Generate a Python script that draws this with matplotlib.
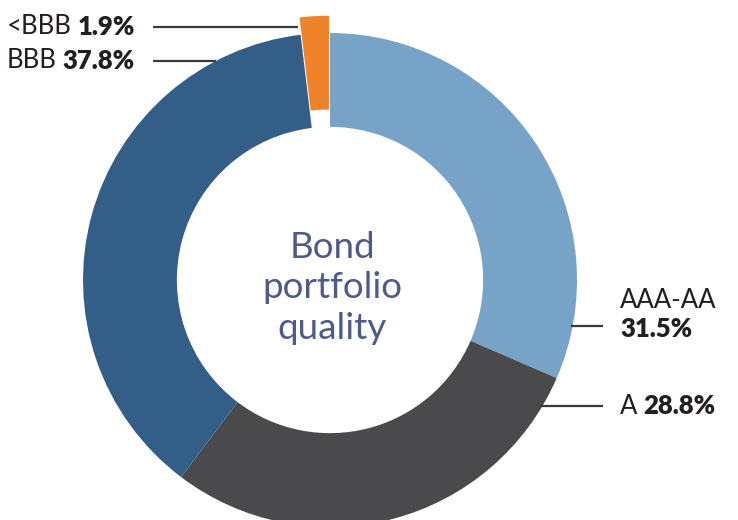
import numpy as np
import matplotlib
matplotlib.use("Agg")
import matplotlib.pyplot as plt

categories = ["AAA-AA", "A", "BBB", "<BBB"]
values = [31.5, 28.8, 37.8, 1.9]
colors = ["#77a3c8", "#4a4a4c", "#335e88", "#f0832a"]
explode_frac = [0, 0, 0, 0.07]
center_title = "Bond\nportfolio\nquality"

W, H = 738, 520
fig = plt.figure(figsize=(W / 100, H / 100), dpi=100)
ax = fig.add_axes([0, 0, 1, 1])

cx, cy, R = 330, H - 280, 247
ring = 0.38

ax.pie(values, colors=colors, startangle=90, counterclock=False,
       explode=[e * R for e in explode_frac], center=(cx, cy), radius=R,
       wedgeprops=dict(width=R * ring, linewidth=0), frame=True)
ax.set_xlim(0, W)
ax.set_ylim(0, H)
ax.set_aspect("equal")
ax.axis("off")

ax.text(cx + 2, cy - 8, center_title, ha="center", va="center", fontsize=26.5,
        color="#4d5a8a", family="Lato", linespacing=1.28)

line_color = "#3a3a3a"
txt_color = "#231f20"
fs = 18.5

def circ_x(y, side):
    return cx + side * np.sqrt(R ** 2 - (y - cy) ** 2)

fig.canvas.draw()
renderer = fig.canvas.get_renderer()

def left_label(idx, y, x_end):
    ax.plot([153, x_end], [y, y], color=line_color, lw=1.6, solid_capstyle="butt")
    b = ax.text(135, y, f"{values[idx]:.1f}%", ha="right", va="center",
                fontsize=fs, fontweight="heavy", family="Lato", color=txt_color)
    bb = b.get_window_extent(renderer=renderer)
    ax.text(bb.x0 - 6, y, categories[idx], ha="right", va="center",
            fontsize=fs, family="Lato", color=txt_color)

left_label(3, H - 27, 298)
left_label(2, H - 61, circ_x(H - 61, -1))

# AAA-AA
y1 = H - 326
ax.plot([circ_x(y1, 1) - 2, 603], [y1, y1], color=line_color, lw=1.6, solid_capstyle="butt")
ax.text(620, H - 301, categories[0], ha="left", va="center", fontsize=fs,
        family="Lato", color=txt_color)
ax.text(620, H - 329, f"{values[0]:.1f}%", ha="left", va="center", fontsize=fs,
        fontweight="heavy", family="Lato", color=txt_color)

# A
y2 = H - 406
ax.plot([circ_x(y2, 1) - 2, 603], [y2, y2], color=line_color, lw=1.6, solid_capstyle="butt")
t = ax.text(620, y2, categories[1], ha="left", va="center", fontsize=fs,
            family="Lato", color=txt_color)
bb = t.get_window_extent(renderer=renderer)
ax.text(bb.x1 + 6, y2, f"{values[1]:.1f}%", ha="left", va="center", fontsize=fs,
        fontweight="heavy", family="Lato", color=txt_color)

fig.savefig("out.png", dpi=100)
